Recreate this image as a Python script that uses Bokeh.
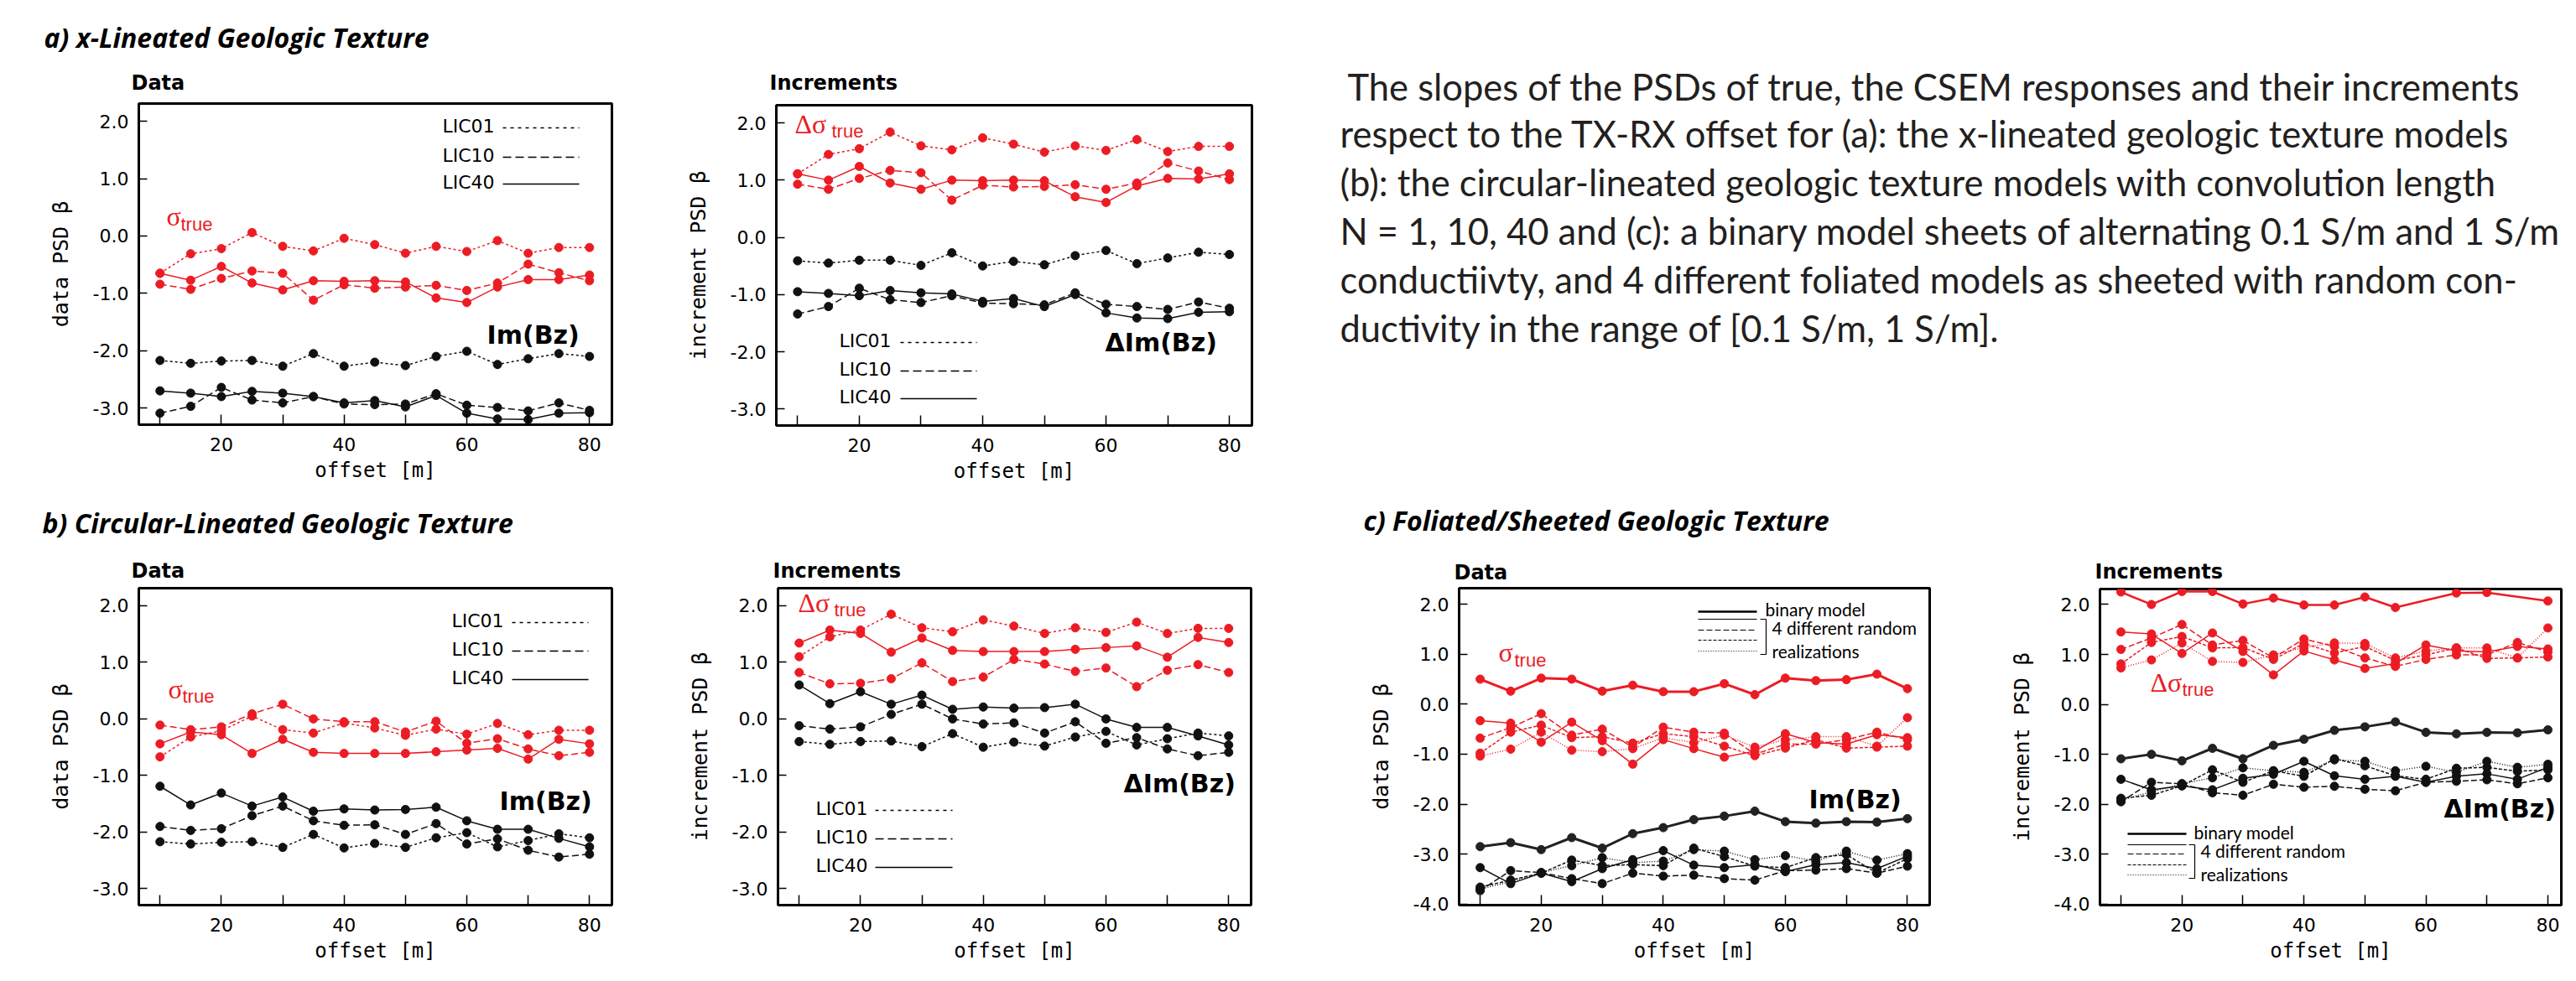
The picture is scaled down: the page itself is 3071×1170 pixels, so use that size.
from bokeh.plotting import figure
from bokeh.layouts import column, row
from bokeh.models import Range1d, FixedTicker, PrintfTickFormatter, Label
from bokeh.embed import file_html
from bokeh.resources import INLINE
from bokeh.core.properties import value

# ---------------- data ----------------
offsets = [10, 15, 20, 25, 30, 35, 40, 45, 50, 55, 60, 65, 70, 75, 80]
x_tick_labels = [20, 40, 60, 80]
x_minor = [10, 30, 50, 70]

# a) x-lineated : data
a_dat_true_lic01 = [-0.65, -0.31, -0.22, 0.06, -0.18, -0.26, -0.04, -0.15, -0.30, -0.18, -0.27, -0.08, -0.30, -0.20, -0.20]
a_dat_true_lic10 = [-0.84, -0.93, -0.74, -0.61, -0.65, -1.12, -0.85, -0.91, -0.89, -0.86, -0.95, -0.82, -0.49, -0.64, -0.78]
a_dat_true_lic40 = [-0.65, -0.77, -0.53, -0.82, -0.94, -0.78, -0.79, -0.78, -0.80, -1.08, -1.16, -0.89, -0.76, -0.76, -0.68]
a_dat_imbz_lic01 = [-2.17, -2.22, -2.18, -2.17, -2.27, -2.05, -2.27, -2.20, -2.26, -2.10, -2.01, -2.24, -2.14, -2.05, -2.10]
a_dat_imbz_lic10 = [-3.09, -2.97, -2.64, -2.86, -2.91, -2.80, -2.93, -2.94, -2.93, -2.75, -2.95, -2.99, -3.05, -2.91, -3.04]
a_dat_imbz_lic40 = [-2.70, -2.74, -2.80, -2.71, -2.74, -2.80, -2.91, -2.87, -2.98, -2.78, -3.09, -3.19, -3.20, -3.09, -3.08]
# a) increments
a_inc_true_lic01 = [1.11, 1.45, 1.55, 1.84, 1.60, 1.53, 1.74, 1.63, 1.49, 1.60, 1.52, 1.71, 1.50, 1.59, 1.59]
a_inc_true_lic10 = [0.93, 0.84, 1.03, 1.17, 1.13, 0.65, 0.91, 0.88, 0.89, 0.92, 0.84, 0.95, 1.30, 1.16, 1.01]
a_inc_true_lic40 = [1.11, 1.00, 1.24, 0.95, 0.84, 1.00, 0.99, 1.00, 0.99, 0.71, 0.61, 0.90, 1.03, 1.02, 1.11]
a_inc_imbz_lic01 = [-0.41, -0.45, -0.40, -0.40, -0.49, -0.27, -0.50, -0.42, -0.48, -0.32, -0.23, -0.46, -0.36, -0.26, -0.30]
a_inc_imbz_lic10 = [-1.34, -1.21, -0.89, -1.09, -1.14, -1.02, -1.15, -1.16, -1.18, -0.97, -1.17, -1.21, -1.26, -1.13, -1.24]
a_inc_imbz_lic40 = [-0.95, -0.98, -1.02, -0.93, -0.97, -0.99, -1.12, -1.07, -1.21, -1.00, -1.32, -1.41, -1.42, -1.31, -1.30]

# b) circular-lineated : data
b_dat_true_lic01 = [-0.67, -0.32, -0.21, 0.05, -0.19, -0.25, -0.07, -0.16, -0.29, -0.18, -0.27, -0.08, -0.28, -0.20, -0.20]
b_dat_true_lic10 = [-0.11, -0.19, -0.14, 0.09, 0.26, 0.00, -0.05, -0.05, -0.23, -0.04, -0.43, -0.35, -0.53, -0.65, -0.59]
b_dat_true_lic40 = [-0.44, -0.23, -0.28, -0.61, -0.36, -0.59, -0.61, -0.61, -0.61, -0.58, -0.55, -0.52, -0.71, -0.36, -0.44]
b_dat_imbz_lic01 = [-2.17, -2.21, -2.18, -2.17, -2.27, -2.04, -2.28, -2.20, -2.27, -2.10, -2.01, -2.26, -2.15, -2.03, -2.10]
b_dat_imbz_lic10 = [-1.90, -1.97, -1.94, -1.71, -1.54, -1.80, -1.88, -1.87, -2.04, -1.85, -2.21, -2.12, -2.32, -2.44, -2.39]
b_dat_imbz_lic40 = [-1.19, -1.52, -1.31, -1.54, -1.38, -1.63, -1.59, -1.61, -1.60, -1.56, -1.80, -1.95, -1.95, -2.11, -2.26]
# b) increments
b_inc_true_lic01 = [1.10, 1.45, 1.57, 1.85, 1.61, 1.54, 1.75, 1.64, 1.51, 1.61, 1.53, 1.71, 1.51, 1.60, 1.60]
b_inc_true_lic10 = [0.82, 0.62, 0.63, 0.71, 0.99, 0.66, 0.74, 1.05, 0.97, 0.84, 0.90, 0.57, 0.86, 0.96, 0.82]
b_inc_true_lic40 = [1.34, 1.57, 1.51, 1.18, 1.43, 1.21, 1.19, 1.19, 1.19, 1.23, 1.26, 1.29, 1.09, 1.44, 1.35]
b_inc_imbz_lic01 = [-0.40, -0.45, -0.40, -0.39, -0.49, -0.26, -0.50, -0.41, -0.48, -0.32, -0.22, -0.46, -0.35, -0.25, -0.30]
b_inc_imbz_lic10 = [-0.12, -0.18, -0.14, 0.08, 0.26, 0.00, -0.09, -0.07, -0.25, -0.05, -0.43, -0.33, -0.53, -0.65, -0.59]
b_inc_imbz_lic40 = [0.60, 0.27, 0.48, 0.26, 0.42, 0.17, 0.21, 0.19, 0.20, 0.26, 0.00, -0.15, -0.15, -0.30, -0.46]

# c) foliated/sheeted : data
c_dat_true_binary = [0.50, 0.26, 0.52, 0.50, 0.26, 0.38, 0.25, 0.25, 0.41, 0.19, 0.52, 0.47, 0.49, 0.60, 0.31]
c_dat_true_rand1 = [-0.33, -0.38, -0.76, -0.36, -0.73, -1.20, -0.71, -0.89, -1.06, -0.94, -0.59, -0.77, -0.80, -0.61, -0.67]
c_dat_true_rand2 = [-0.68, -0.47, -0.19, -0.62, -0.50, -0.86, -0.46, -0.56, -0.58, -1.00, -0.80, -0.80, -0.71, -0.56, -0.71]
c_dat_true_rand3 = [-0.98, -0.56, -0.42, -0.67, -0.65, -0.78, -0.59, -0.65, -0.84, -1.03, -0.88, -0.71, -0.88, -0.86, -0.84]
c_dat_true_rand4 = [-1.04, -0.90, -0.56, -0.92, -0.95, -0.89, -0.67, -0.77, -0.62, -0.86, -0.71, -0.65, -0.65, -0.84, -0.27]
c_dat_imbz_binary = [-2.85, -2.77, -2.91, -2.67, -2.88, -2.59, -2.47, -2.31, -2.24, -2.14, -2.35, -2.38, -2.35, -2.36, -2.29]
c_dat_imbz_rand1 = [-3.27, -3.59, -3.38, -3.55, -3.29, -3.11, -2.93, -3.22, -3.27, -3.21, -3.35, -3.21, -3.17, -3.29, -3.04]
c_dat_imbz_rand2 = [-3.73, -3.33, -3.37, -3.49, -3.59, -3.38, -3.44, -3.42, -3.49, -3.52, -3.33, -3.32, -3.29, -3.38, -3.24]
c_dat_imbz_rand3 = [-3.66, -3.52, -3.38, -3.12, -3.23, -3.21, -3.23, -2.88, -3.05, -3.24, -3.27, -3.07, -3.01, -3.38, -3.09]
c_dat_imbz_rand4 = [-3.70, -3.55, -3.37, -3.23, -3.07, -3.17, -3.14, -2.91, -2.94, -3.11, -3.03, -3.14, -2.94, -3.12, -2.99]
# c) increments
c_inc_binary_offsets = [10, 15, 20, 25, 30, 35, 40, 45, 50, 55, 65, 70, 80]
c_inc_true_binary = [2.25, 2.00, 2.26, 2.26, 2.01, 2.13, 1.99, 1.99, 2.15, 1.94, 2.23, 2.24, 2.07]
c_inc_true_rand1 = [1.45, 1.41, 1.02, 1.43, 1.06, 0.59, 1.07, 0.89, 0.72, 0.82, 1.19, 1.07, 1.05, 1.16, 1.11]
c_inc_true_rand2 = [1.10, 1.33, 1.60, 1.19, 1.28, 0.93, 1.31, 1.16, 0.93, 0.76, 0.90, 0.99, 0.99, 1.24, 1.05]
c_inc_true_rand3 = [0.81, 1.24, 1.36, 1.13, 1.14, 0.90, 1.22, 1.03, 1.16, 0.88, 0.99, 1.13, 0.92, 0.93, 0.95]
c_inc_true_rand4 = [0.73, 0.89, 1.23, 0.86, 0.84, 0.99, 1.14, 1.23, 1.22, 0.93, 1.07, 1.13, 1.13, 0.93, 1.53]
c_inc_imbz_binary = [-1.09, -1.00, -1.13, -0.88, -1.09, -0.82, -0.70, -0.52, -0.45, -0.35, -0.56, -0.59, -0.56, -0.57, -0.51]
c_inc_imbz_rand1 = [-1.50, -1.71, -1.63, -1.71, -1.48, -1.40, -1.14, -1.43, -1.50, -1.44, -1.56, -1.44, -1.39, -1.50, -1.26]
c_inc_imbz_rand2 = [-1.95, -1.56, -1.59, -1.77, -1.82, -1.60, -1.66, -1.64, -1.70, -1.73, -1.56, -1.54, -1.51, -1.59, -1.47]
c_inc_imbz_rand3 = [-1.88, -1.82, -1.63, -1.31, -1.56, -1.33, -1.44, -1.09, -1.23, -1.43, -1.50, -1.28, -1.26, -1.34, -1.31]
c_inc_imbz_rand4 = [-1.92, -1.75, -1.59, -1.47, -1.27, -1.33, -1.36, -1.11, -1.14, -1.33, -1.24, -1.36, -1.14, -1.26, -1.20]

caption_lines = [
    "The slopes of the PSDs of  true, the CSEM responses and their increments",
    "respect to the TX-RX offset for (a): the x-lineated geologic texture models",
    "(b): the circular-lineated geologic texture models  with convolution length",
    "N = 1, 10, 40 and (c): a binary model sheets of alternating 0.1 S/m and 1 S/m",
    "conductiivty, and 4 different foliated models as sheeted with random con-",
    "ductivity in the range of [0.1 S/m, 1 S/m].",
]

# ---------------- style ----------------
RED = "#ec1c24"
BLK = "#111111"
DASH_LIC = {"LIC01": "3 3", "LIC10": "8 4", "LIC40": "solid"}
DASH_RAND = ["solid", "7 3", "4 2", "1 2"]
TICK_FONT = "DejaVu Sans"
SUB_FONT = "Liberation Sans"
MONO = "DejaVu Sans Mono"
TITLE_FONT = "Open Sans"
SERIF = "Liberation Serif"


class Panel:
    def __init__(self, fig_box, frame_box, xr, yr, yticks, ylabel):
        fl, ft, fw, fh = fig_box
        L, T, R, B = frame_box
        self.L, self.T, self.R, self.B = L, T, R, B
        self.xr, self.yr = xr, yr
        p = figure(width=fw, height=fh, x_range=Range1d(*xr), y_range=Range1d(*yr),
                   output_backend="svg", toolbar_location=None, title=None,
                   min_border_left=L - fl, min_border_right=fl + fw - R,
                   min_border_top=T - ft, min_border_bottom=ft + fh - B,
                   background_fill_color="white", border_fill_color="white",
                   frame_align=False)
        p.grid.visible = False
        p.outline_line_color = "black"
        p.outline_line_width = 3
        p.xaxis.ticker = FixedTicker(ticks=x_tick_labels, minor_ticks=x_minor)
        p.yaxis.ticker = FixedTicker(ticks=yticks)
        p.yaxis.formatter = PrintfTickFormatter(format="%.1f")
        for ax in (p.xaxis[0], p.yaxis[0]):
            ax.axis_line_color = None
            ax.major_tick_in = 12
            ax.major_tick_out = 0
            ax.minor_tick_in = 12
            ax.minor_tick_out = 0
            ax.major_tick_line_width = 1.5
            ax.minor_tick_line_width = 1.5
            ax.major_tick_line_color = "black"
            ax.minor_tick_line_color = "black"
            ax.major_label_text_font = TICK_FONT
            ax.major_label_text_font_size = "22px"
            ax.major_label_text_color = "black"
            ax.axis_label_text_font = MONO
            ax.axis_label_text_font_size = "24px"
            ax.axis_label_text_font_style = "normal"
            ax.axis_label_text_color = "black"
        p.yaxis.axis_label_text_font_size = "25px"
        p.yaxis.minor_tick_line_color = None
        p.yaxis.major_tick_in = 10
        p.xaxis.major_label_standoff = 15
        p.xaxis.axis_label_standoff = 6
        p.yaxis.major_label_standoff = 12
        p.yaxis.axis_label_standoff = 21
        p.xaxis.axis_label = "offset [m]"
        p.yaxis.axis_label = ylabel
        self.p = p

    def d(self, px, py):
        x0, x1 = self.xr
        y0, y1 = self.yr
        x = x0 + (px - self.L) / (self.R - self.L) * (x1 - x0)
        y = y0 + (self.B - py) / (self.B - self.T) * (y1 - y0)
        return x, y

    def label(self, px, py, text, font, size, color="black", style="normal"):
        x, y = self.d(px, py)
        self.p.add_layout(Label(x=x, y=y, text=text, text_font=font,
                                text_font_size=f"{size}px", text_color=color,
                                text_font_style=style, text_baseline="middle",
                                text_align="left"))

    def hline(self, px0, px1, py, dash, width=1.5, color="black"):
        x0, y = self.d(px0, py)
        x1, _ = self.d(px1, py)
        self.p.line([x0, x1], [y, y], line_color=color, line_dash=dash, line_width=width)

    def bracket(self, px0, px1, py0, py1):
        xa, ya = self.d(px0, py0)
        xb, yb = self.d(px1, py1)
        self.p.line([xa, xb, xb, xa], [ya, ya, yb, yb], line_color="black", line_width=1.2)

    def series(self, x, y, color, dash, width=1.5):
        self.p.line(x, y, line_color=color, line_dash=dash, line_width=width)
        self.p.scatter(x, y, size=10, fill_color=color, line_color=color)


class Strip:
    """A figure without axes whose frame is the whole figure, used for text."""
    def __init__(self, left, top, w, h):
        self.left, self.top = left, top
        p = figure(width=w, height=h, x_range=Range1d(0, w), y_range=Range1d(h, 0),
                   output_backend="svg", toolbar_location=None, title=None,
                   min_border=0, x_axis_type=None, y_axis_type=None,
                   frame_align=False)
        p.outline_line_color = None
        self.p = p

    def text(self, px, py, text, font, size, style="normal", color="black"):
        self.p.text(x=[px - self.left], y=[py - self.top], text=[text],
                    text_font=value(font), text_font_size=f"{size}px",
                    text_font_style=value(style), text_baseline="middle",
                    text_align="left", text_color=color)


XR = (6.55, 83.65)
YR = (-3.29, 2.31)
YT = [-3, -2, -1, 0, 1, 2]
YTC = [-4, -3, -2, -1, 0, 1, 2]

A1 = Panel((8, 125, 772, 467), (173, 131, 737, 514), XR, YR, YT, "data PSD β")
A2 = Panel((780, 125, 760, 467), (933, 133, 1500, 515), XR, YR, YT, "increment PSD β")
B1 = Panel((8, 707, 772, 455), (173, 709, 737, 1087), XR, YR, YT, "data PSD β")
B2 = Panel((780, 707, 780, 455), (935, 709, 1499, 1087), XR, YR, YT, "increment PSD β")
C1 = Panel((1560, 707, 820, 455), (1747, 709, 2308, 1087), XR, (-4.02, 2.32), YTC, "data PSD β")
C2 = Panel((2380, 707, 683, 455), (2511, 710, 3061, 1087), (6.56, 82.2), (-4.02, 2.31), YTC, "increment PSD β")

# ---- series a/b ----
for pan, tr, im in [
    (A1, [a_dat_true_lic01, a_dat_true_lic10, a_dat_true_lic40], [a_dat_imbz_lic01, a_dat_imbz_lic10, a_dat_imbz_lic40]),
    (A2, [a_inc_true_lic01, a_inc_true_lic10, a_inc_true_lic40], [a_inc_imbz_lic01, a_inc_imbz_lic10, a_inc_imbz_lic40]),
    (B1, [b_dat_true_lic01, b_dat_true_lic10, b_dat_true_lic40], [b_dat_imbz_lic01, b_dat_imbz_lic10, b_dat_imbz_lic40]),
    (B2, [b_inc_true_lic01, b_inc_true_lic10, b_inc_true_lic40], [b_inc_imbz_lic01, b_inc_imbz_lic10, b_inc_imbz_lic40]),
]:
    for vals, key in zip(tr, ["LIC01", "LIC10", "LIC40"]):
        pan.series(offsets, vals, RED, DASH_LIC[key])
    for vals, key in zip(im, ["LIC01", "LIC10", "LIC40"]):
        pan.series(offsets, vals, BLK, DASH_LIC[key])

# ---- series c ----
C1.series(offsets, c_dat_true_binary, RED, "solid", 3)
C1.series(offsets, c_dat_imbz_binary, "#222222", "solid", 3)
for vals, dash in zip([c_dat_true_rand1, c_dat_true_rand2, c_dat_true_rand3, c_dat_true_rand4], DASH_RAND):
    C1.series(offsets, vals, RED, dash)
for vals, dash in zip([c_dat_imbz_rand1, c_dat_imbz_rand2, c_dat_imbz_rand3, c_dat_imbz_rand4], DASH_RAND):
    C1.series(offsets, vals, BLK, dash)
C2.series(c_inc_binary_offsets, c_inc_true_binary, RED, "solid", 2.5)
C2.series(offsets, c_inc_imbz_binary, "#222222", "solid", 3)
for vals, dash in zip([c_inc_true_rand1, c_inc_true_rand2, c_inc_true_rand3, c_inc_true_rand4], DASH_RAND):
    C2.series(offsets, vals, RED, dash)
for vals, dash in zip([c_inc_imbz_rand1, c_inc_imbz_rand2, c_inc_imbz_rand3, c_inc_imbz_rand4], DASH_RAND):
    C2.series(offsets, vals, BLK, dash)

# ---- titles (text strips above the panels) ----
SA = Strip(8, 8, 1532, 117)
SA.text(60, 52, "a) x-Lineated Geologic Texture", TITLE_FONT, 32, "bold italic")
SA.text(164, 106, "Data", TICK_FONT, 24, "bold")
SA.text(925, 106, "Increments", TICK_FONT, 24, "bold")

SB = Strip(8, 592, 3055, 115)
SB.text(58, 631, "b) Circular-Lineated Geologic Texture", TITLE_FONT, 32, "bold italic")
SB.text(1633, 628, "c) Foliated/Sheeted Geologic Texture", TITLE_FONT, 32, "bold italic")
SB.text(164, 688, "Data", TICK_FONT, 24, "bold")
SB.text(929, 688, "Increments", TICK_FONT, 24, "bold")
SB.text(1741, 690, "Data", TICK_FONT, 24, "bold")
SB.text(2505, 689, "Increments", TICK_FONT, 24, "bold")

# ---- sigma labels ----
A1.label(206, 265, "σ", SERIF, 32, RED)
A1.label(223, 275, "true", SUB_FONT, 22, RED)
B1.label(208, 829, "σ", SERIF, 32, RED)
B1.label(225, 838, "true", SUB_FONT, 22, RED)
C1.label(1794, 785, "σ", SERIF, 32, RED)
C1.label(1813, 795, "true", SUB_FONT, 22, RED)
A2.label(955, 155, "Δσ", SERIF, 32, RED)
A2.label(999, 164, "true", SUB_FONT, 22, RED)
B2.label(959, 726, "Δσ", SERIF, 32, RED)
B2.label(1002, 735, "true", SUB_FONT, 22, RED)
C2.label(2571, 821, "Δσ", SERIF, 32, RED)
C2.label(2609, 830, "true", SUB_FONT, 22, RED)

# ---- Im(Bz) labels ----
A1.label(588, 407, "Im(Bz)", TICK_FONT, 30, style="bold")
A2.label(1325, 416, "ΔIm(Bz)", TICK_FONT, 30, style="bold")
B1.label(603, 963, "Im(Bz)", TICK_FONT, 30, style="bold")
B2.label(1347, 942, "ΔIm(Bz)", TICK_FONT, 30, style="bold")
C1.label(2164, 961, "Im(Bz)", TICK_FONT, 30, style="bold")
C2.label(2921, 972, "ΔIm(Bz)", TICK_FONT, 30, style="bold")

# ---- LIC legends ----
for pan, tx, ys, lx0, lx1 in [
    (A1, 535, [158, 193, 225], 607, 698),
    (A2, 1008, [414, 448, 481], 1081, 1172),
    (B1, 546, [748, 782, 816], 618, 709),
    (B2, 980, [972, 1006, 1040], 1051, 1143),
]:
    for key, yy, dash in zip(["LIC01", "LIC10", "LIC40"], ys, ["4 5", "10 5", "solid"]):
        pan.label(tx, yy, key, TICK_FONT, 22)
        pan.hline(lx0, lx1, yy + 2, dash, 1.3)

# ---- c legends ----
for pan, lx0, lx1, ybin, yth, tx, tyb, ty2, ty3, bx in [
    (C1, 2032, 2102, 737, [746, 759, 771, 784], 2112, 734, 756, 784, 2106),
    (C2, 2544, 2614, 1002, [1015, 1026, 1039, 1051], 2623, 1000, 1022, 1050, 2617),
]:
    pan.hline(lx0, lx1, ybin, "solid", 2.5)
    for yy, dash in zip(yth, DASH_RAND):
        pan.hline(lx0, lx1, yy, dash, 1.2)
    pan.bracket(bx, bx + 7, yth[0], yth[-1] + 4)
    pan.label(tx, tyb, "binary model", "Lato", 21)
    pan.label(tx + 8, ty2, "4 different random", "Lato", 21)
    pan.label(tx + 8, ty3, "realizations", "Lato", 21)

# ---- caption ----
CAP = Strip(1540, 8, 1523, 584)
cap_x = [1614, 1605, 1605, 1605, 1605, 1605]
cap_y = [110, 166, 224, 282, 340, 398]
for cx, cy, line in zip(cap_x, cap_y, caption_lines):
    CAP.text(cx, cy, line, "Lato", 43.5, "normal", "#231f20")

layout = column(
    row(column(SA.p, row(A1.p, A2.p)), CAP.p),
    column(SB.p, row(B1.p, B2.p, C1.p, C2.p)),
)
open("out.html", "w").write(file_html(layout, INLINE))
